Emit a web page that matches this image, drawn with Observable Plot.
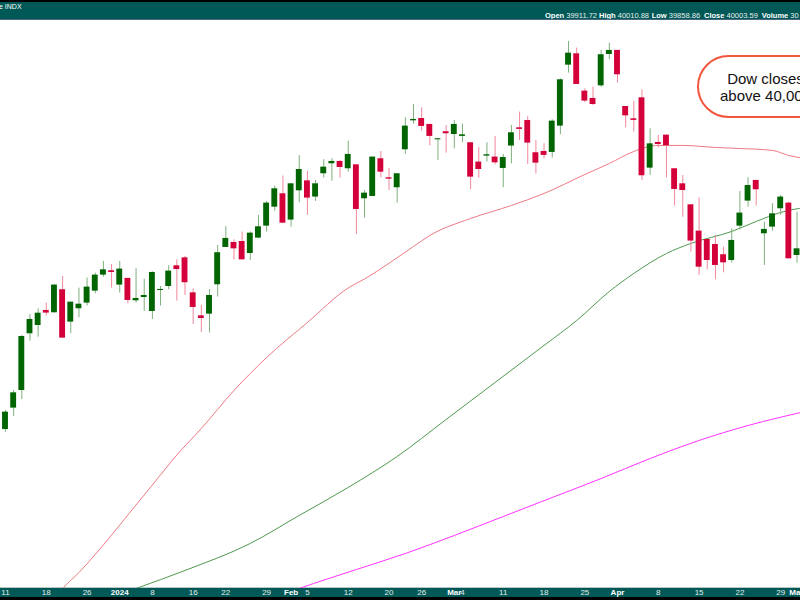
<!DOCTYPE html>
<html><head><meta charset="utf-8">
<script src="https://cdn.jsdelivr.net/npm/d3@7"></script>
<script src="https://cdn.jsdelivr.net/npm/@observablehq/plot@0.6"></script>
<style>
html,body{margin:0;padding:0;background:#fff;}
body{width:800px;height:600px;overflow:hidden;position:relative;font-family:"Liberation Sans",Arial,sans-serif;}
#hdr{position:relative;height:20px;background:#015957;border-top:2px solid #000;border-bottom:1px solid #4b6680;box-sizing:border-box;color:#fff;white-space:nowrap;overflow:hidden;}
#hdr .l{position:absolute;left:-1px;top:1px;font-size:7px;}
#hdr .r{position:absolute;top:8.5px;font-size:7.5px;color:#e8eeee;}
#hdr .r b{color:#fff;}
#chart svg{display:block;}
#callout{position:absolute;left:697px;top:55px;width:137px;height:63px;box-sizing:border-box;border:2px solid #f2563f;border-radius:32px;background:#fff;display:flex;flex-direction:column;align-items:center;justify-content:center;font-size:15px;line-height:17px;color:#111;}
</style></head>
<body>
<div id="hdr"><span class="l">e INDX</span></div>
<div id="chart"></div>
<div id="callout"><div>Dow closes</div><div>above 40,000</div></div>
<script>
// ---- data ----
const dates = ["2023-12-08","2023-12-11","2023-12-12","2023-12-13","2023-12-14","2023-12-15","2023-12-18","2023-12-19","2023-12-20","2023-12-21","2023-12-22","2023-12-26","2023-12-27","2023-12-28","2023-12-29","2024-01-02","2024-01-03","2024-01-04","2024-01-05","2024-01-08","2024-01-09","2024-01-10","2024-01-11","2024-01-12","2024-01-16","2024-01-17","2024-01-18","2024-01-19","2024-01-22","2024-01-23","2024-01-24","2024-01-25","2024-01-26","2024-01-29","2024-01-30","2024-01-31","2024-02-01","2024-02-02","2024-02-05","2024-02-06","2024-02-07","2024-02-08","2024-02-09","2024-02-12","2024-02-13","2024-02-14","2024-02-15","2024-02-16","2024-02-20","2024-02-21","2024-02-22","2024-02-23","2024-02-26","2024-02-27","2024-02-28","2024-02-29","2024-03-01","2024-03-04","2024-03-05","2024-03-06","2024-03-07","2024-03-08","2024-03-11","2024-03-12","2024-03-13","2024-03-14","2024-03-15","2024-03-18","2024-03-19","2024-03-20","2024-03-21","2024-03-22","2024-03-25","2024-03-26","2024-03-27","2024-03-28","2024-04-01","2024-04-02","2024-04-03","2024-04-04","2024-04-05","2024-04-08","2024-04-09","2024-04-10","2024-04-11","2024-04-12","2024-04-15","2024-04-16","2024-04-17","2024-04-18","2024-04-19","2024-04-22","2024-04-23","2024-04-24","2024-04-25","2024-04-26","2024-04-29","2024-04-30","2024-05-01","2024-05-02"];

const openV = [36100, 36214,36416,36582,37117,37195, 37337,37315,37532,37227,37353, 37406,37519,37670,37711, 37576,37639,37428,37459, 37327,37525,37563,37758,37833, 37503,37286,37302,37579, 37931,37978,37987,37874,38019, 38132,38311,38437,38189,38465, 38559,38406,38626,38720,38742, 38673,38710,38390,38412,38767, 38588,38494,38852,39125, 39147,39091,38946,39022,38996, 38978,38918,38736,38792,38783, 38676,38887,39059,39128,38824, 38836,38827,39075,39650,39757, 39405,39336,39455,39751, 39789,39260,39144,39342,38679, 38921,38990,38673,38531,38333, 38085,38006,37959,37862,37808, 38132,38368,38563,38060,38123, 38296,38349,37855];
const highV = [36260, 36394,36582,37101,37299,37352, 37406,37579,37657,37415,37547, 37642,37689,37799,37770, 37799,37639,37730,37632, 37701,37563,37758,37815,37846, 37541,37384,37532,37950, 38129,38003,38076,38076,38233, 38365,38509,38604,38531,38798, 38647,38562,38758,38767,38751, 38933,38710,38468,38783,38836, 38676,38626,39154,39279, 39248,39091,38956,39081,39129, 39094,38918,38871,38918,38978, 38808,39081,39207,39166,38940, 38909,39135,39521,39873,39811, 39427,39443,39789,39858, 39789,39260,39308,39418,39050, 38987,38990,38673,38610,38333, 38399,38006,38044,37934,38107, 38459,38588,38563,38170,38343, 38421,38358,38264];
const lowV = [36000, 36189,36337,36497,37047,37085, 37286,37314,37076,37117,37268, 37378,37494,37651,37547, 37500,37400,37406,37327, 37252,37378,37532,37425,37478, 37205,37130,37125,37463, 37931,37814,37814,37808,38013, 38076,38273,38154,38123,38352, 38233,38365,38585,38556,38585, 38641,38053,38207,38412,38588, 38468,38349,38808,39094, 39028,38890,38751,38820,38861, 38918,38475,38585,38736,38710, 38494,38720,38940,38713,38625, 38767,38773,38993,39575,39465, 39298,39270,39440,39701, 39481,39059,39018,38563,38610, 38871,38585,38321,38216,37887, 37667,37720,37626,37692,37783, 38097,38311,38321,37761,38085, 38233,37824,37783];
const closeV = [36247, 36378,36560,37091,37252,37311, 37312,37576,37076,37415,37396, 37557,37670,37720,37695, 37727,37431,37450,37478, 37695,37535,37708,37723,37598, 37365,37261,37478,37881, 38016,37918,37814,38066,38126, 38349,38484,38160,38531,38666, 38396,38531,38688,38742,38685, 38808,38289,38443,38783,38641, 38575,38626,39075,39138, 39072,38978,38956,39003,39091, 38993,38594,38666,38805,38729, 38779,39012,39044,38915,38726, 38799,39122,39512,39763,39468, 39311,39279,39748,39789, 39559,39172,39129,38607,38908, 38902,38890,38478,38468,37991, 37745,37808,37761,37786,37997, 38255,38515,38475,38101,38248, 38406,37824,37918];

// moving averages (read at sample dates)
const ma50Dates = ["2023-12-19","2023-12-20","2023-12-22","2023-12-28","2024-01-03","2024-01-08","2024-01-11","2024-01-17","2024-01-23","2024-01-29","2024-02-05","2024-02-12","2024-02-14","2024-02-23","2024-02-27","2024-03-05","2024-03-12","2024-03-18","2024-03-25","2024-03-28","2024-04-03","2024-04-08","2024-04-11","2024-04-17","2024-04-22","2024-04-26","2024-04-30","2024-05-02"];
const ma50Vals = [34621,34715,34866,35126,35409,35691,35974,36224,36582,36893,37224,37549,37634,37940,38044,38204,38327,38440,38619,38723,38836,38893,38893,38874,38864,38846,38798,38770];
const ma100Dates = ["2024-01-02","2024-01-04","2024-01-12","2024-01-25","2024-02-02","2024-02-12","2024-02-21","2024-02-29","2024-03-08","2024-03-18","2024-03-22","2024-03-28","2024-04-03","2024-04-09","2024-04-12","2024-04-19","2024-04-24","2024-04-29","2024-05-02"];
const ma100Vals = [34659,34715,34885,35140,35404,35668,35960,36309,36658,37007,37242,37516,37686,37874,37969,38082,38176,38261,38308];
const ma200Dates = ["2024-02-01","2024-02-02","2024-02-13","2024-02-22","2024-03-01","2024-03-11","2024-03-19","2024-03-27","2024-04-05","2024-04-15","2024-04-23","2024-05-02"];
const ma200Vals = [34687,34715,34894,35045,35215,35394,35573,35752,35941,36111,36252,36384];

const tickDates = ["2023-12-11","2023-12-18","2023-12-26","2024-01-02","2024-01-08","2024-01-16","2024-01-22","2024-01-29","2024-02-01","2024-02-05","2024-02-12","2024-02-20","2024-02-26","2024-03-01","2024-03-04","2024-03-11","2024-03-18","2024-03-25","2024-04-01","2024-04-08","2024-04-15","2024-04-22","2024-04-29","2024-05-01"];
const tickLabels = ["11","18","26","2024","8","16","22","29","Feb","5","12","20","26","Mar","4","11","18","25","Apr","8","15","22","29","May"];
const tickBold = [0,0,0,1,0,0,0,0,1,0,0,0,0,1,0,0,0,0,1,0,0,0,0,1];

const hdrLabels = ["Open","High","Low","Close","Volume"];
const hdrValues = ["39911.72","40010.88","39858.86","40003.59","30"];
const hdrLeft = [545, 599, 651.7, 704, 761.7];

// ---- build ----
const hdr = document.getElementById("hdr");
hdrLabels.forEach((l,i)=>{
  const s = document.createElement("span");
  s.className = "r";
  s.style.left = hdrLeft[i] + "px";
  s.innerHTML = `<b>${l}</b> ${hdrValues[i]}`;
  hdr.appendChild(s);
});

const candles = openV.map((o,i)=>({date: dates[i], open: o, high: highV[i], low: lowV[i], close: closeV[i]}));
const up = candles.filter(d=>d.close>=d.open);
const down = candles.filter(d=>d.close<d.open);
const ma50 = ma50Dates.map((d,i)=>({date:d, v:ma50Vals[i]}));
const ma100 = ma100Dates.map((d,i)=>({date:d, v:ma100Vals[i]}));
const ma200 = ma200Dates.map((d,i)=>({date:d, v:ma200Vals[i]}));
const ticks = tickDates.map((d,i)=>({date:d, label:tickLabels[i], bold:tickBold[i]}));

const G = "#006400", R = "#d3003a", GW = "#7fb07f", RW = "#f0889c";

const chart = Plot.plot({
  width: 800, height: 580,
  marginTop: 0, marginBottom: 12, marginLeft: 0, marginRight: 0,
  x: {type: "band", domain: dates, range: [-7.24, 808.76], paddingInner: 0.28, paddingOuter: 0.14, round: false, axis: null},
  y: {domain: [34715, 40071], axis: null},
  style: {background: "linear-gradient(to bottom, #fff 0px, #fff 567px, #b9c6c6 567px, #b9c6c6 568px, #015957 568px, #015957 577px, #000 577px, #000 580px)", overflow: "hidden"},
  marks: [
    Plot.line(ma200, {x: "date", y: "v", stroke: "#ff33ff", strokeWidth: 1, curve: "monotone-x", clip: true}),
    Plot.line(ma100, {x: "date", y: "v", stroke: "#4f9a4f", strokeWidth: 1, curve: "monotone-x", clip: true}),
    Plot.line(ma50, {x: "date", y: "v", stroke: "#ee7a84", strokeWidth: 1, curve: "monotone-x", clip: true}),
    Plot.ruleX(up, {x: "date", y1: "low", y2: "high", stroke: GW, strokeWidth: 1, clip: true}),
    Plot.ruleX(down, {x: "date", y1: "low", y2: "high", stroke: RW, strokeWidth: 1, clip: true}),
    Plot.barY(up, {x: "date", y1: "open", y2: "close", fill: G, clip: true}),
    Plot.barY(down, {x: "date", y1: "open", y2: "close", fill: R, clip: true}),
    Plot.text(ticks.filter(d=>!d.bold), {x: "date", text: "label", frameAnchor: "bottom", dy: 6, fill: "#e4eeee", fontSize: 8, fontFamily: "Liberation Sans, Arial, sans-serif"}),
    Plot.text(ticks.filter(d=>d.bold), {x: "date", text: "label", frameAnchor: "bottom", dy: 6, fill: "#ffffff", fontSize: 8, fontWeight: "bold", fontFamily: "Liberation Sans, Arial, sans-serif"})
  ]
});
document.getElementById("chart").appendChild(chart);
</script>
</body></html>
